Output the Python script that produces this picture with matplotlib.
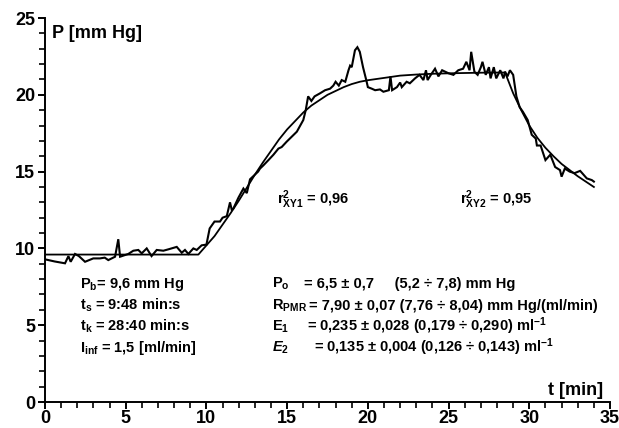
import matplotlib
matplotlib.use("Agg")
import matplotlib.pyplot as plt
from matplotlib.ticker import MultipleLocator

plt.rcParams['font.family'] = ['Liberation Sans', 'DejaVu Sans']
plt.rcParams['font.weight'] = 'bold'
plt.rcParams['mathtext.fontset'] = 'custom'
plt.rcParams['mathtext.rm'] = 'Liberation Sans:bold'
plt.rcParams['mathtext.bf'] = 'Liberation Sans:bold'
plt.rcParams['mathtext.sf'] = 'Liberation Sans:bold'
plt.rcParams['mathtext.it'] = 'Liberation Sans:bold:italic'
plt.rcParams['mathtext.default'] = 'rm'

# measured pressure (noisy record)
meas_t = [0.0, 0.6, 1.24, 1.45, 1.59, 1.86, 2.1, 2.48, 2.99, 3.4, 3.7, 3.92, 4.34, 4.54, 4.65,
          5.16, 5.47, 5.78, 5.99, 6.3, 6.6, 6.92, 7.33, 7.64, 8.16, 8.47, 8.67, 8.88, 9.19, 9.4,
          9.7, 10.0, 10.2, 10.5, 10.84, 11.0, 11.26, 11.46, 11.57, 11.67, 11.98, 12.29, 12.5,
          12.7, 13.0, 13.2, 13.32, 13.52, 13.84, 14.15, 14.46, 14.66, 14.97, 15.28, 15.6, 16.0,
          16.15, 16.3, 16.5, 16.7, 17.04, 17.35, 17.66, 17.86, 18.0, 18.2, 18.38, 18.6, 18.8,
          18.9, 19.0, 19.2, 19.35, 19.5, 19.7, 19.9, 20.0, 20.24, 20.45, 20.75, 20.96, 21.3,
          21.4, 21.5, 21.8, 22.0, 22.1, 22.4, 22.6, 22.92, 23.2, 23.44, 23.6, 23.7, 23.9, 24.16,
          24.37, 24.6, 24.8, 25.0, 25.3, 25.6, 25.9, 26.1, 26.3, 26.4, 26.6, 26.8, 27.0, 27.1,
          27.3, 27.5, 27.6, 27.8, 27.95, 28.2, 28.4, 28.5, 28.65, 28.8, 29.0, 29.2, 29.4, 29.6,
          29.9, 30.15, 30.4, 30.47, 30.7, 31.0, 31.3, 31.6, 31.9, 32.0, 32.2, 32.5, 32.8, 33.15,
          33.56, 33.87, 34.0]
meas_p = [9.29, 9.15, 9.03, 9.5, 9.13, 9.64, 9.5, 9.13, 9.35, 9.35, 9.4, 9.24, 9.46, 10.6, 9.46,
          9.64, 9.85, 9.9, 9.68, 10.0, 9.5, 9.9, 9.85, 9.94, 10.1, 9.72, 9.9, 9.64, 10.0, 9.9,
          10.2, 10.25, 11.3, 11.75, 11.75, 12.0, 12.1, 13.0, 12.5, 12.6, 13.3, 13.9, 13.6,
          14.5, 14.8, 15.0, 15.2, 15.4, 15.75, 16.1, 16.5, 16.6, 16.95, 17.27, 17.6, 18.36,
          19.0, 19.9, 19.6, 19.9, 20.1, 20.3, 20.4, 20.6, 20.85, 20.6, 20.96, 20.85, 21.6,
          21.9, 21.8, 22.9, 23.1, 22.8, 21.8, 20.96, 20.5, 20.4, 20.3, 20.35, 20.2, 20.3,
          21.2, 20.3, 20.5, 20.8, 20.5, 20.85, 20.75, 21.07, 21.3, 20.96, 21.6, 20.96, 21.3, 21.7,
          21.2, 21.6, 21.5, 21.4, 21.3, 21.6, 21.7, 22.15, 21.6, 22.8, 21.5, 21.3, 21.8, 22.15,
          21.3, 21.8, 21.07, 21.8, 21.07, 21.6, 21.07, 21.5, 21.2, 21.6, 21.3, 19.9, 19.2, 18.9,
          18.36, 17.4, 17.15, 16.7, 16.7, 15.75, 16.1, 15.3, 15.1, 14.67, 15.2, 15.0, 14.9, 15.05,
          14.56, 14.45, 14.35]

# fitted curve: baseline + infusion phase
fit1_t = [0.0, 9.5, 10.0, 10.5, 11.0, 11.5, 12.0, 12.5, 13.0, 13.5, 14.0, 14.5, 15.0, 15.5,
          16.0, 16.5, 17.0, 17.5, 18.0, 18.5, 19.0, 19.5, 20.0, 21.0, 22.0, 23.0, 24.0, 25.0,
          26.0, 27.0, 28.0, 28.5]
fit1_p = [9.6, 9.6, 10.2, 10.8, 11.55, 12.3, 13.1, 13.95, 14.8, 15.6, 16.35, 17.1, 17.75, 18.3,
          18.85, 19.3, 19.65, 20.0, 20.25, 20.5, 20.7, 20.85, 20.95, 21.1, 21.25, 21.32, 21.37,
          21.4, 21.42, 21.44, 21.45, 21.45]
# fitted curve: recovery phase
fit2_t = [28.5, 29.0, 29.5, 30.0, 30.5, 31.0, 31.5, 32.0, 32.5, 33.0, 33.5, 34.0]
fit2_p = [21.45, 20.1, 19.0, 18.0, 17.2, 16.55, 16.0, 15.5, 15.1, 14.7, 14.35, 14.0]

fig = plt.figure(figsize=(6.19, 4.28), dpi=100)
ax = fig.add_axes([0.0727, 0.0607, 0.9128, 0.8972])

ax.plot(meas_t, meas_p, color='black', lw=1.5, solid_joinstyle='miter')
ax.plot(fit1_t, fit1_p, color='black', lw=1.3)
ax.plot(fit2_t, fit2_p, color='black', lw=1.3)

ax.set_xlim(0, 35)
ax.set_ylim(0, 25)
for s in ['top', 'right']:
    ax.spines[s].set_visible(False)
for s in ['left', 'bottom']:
    ax.spines[s].set_linewidth(1.4)
ax.xaxis.set_major_locator(MultipleLocator(5))
ax.xaxis.set_minor_locator(MultipleLocator(1))
ax.yaxis.set_major_locator(MultipleLocator(5))
ax.yaxis.set_minor_locator(MultipleLocator(1))
ax.tick_params(which='major', direction='out', length=5, width=1.4, labelsize=13)
ax.tick_params(axis='x', which='major', pad=1)
ax.tick_params(axis='y', which='major', pad=2)
ax.tick_params(which='minor', direction='out', length=4, width=1.2)
for lab in ax.get_xticklabels() + ax.get_yticklabels():
    lab.set_fontweight('bold')

ax.text(0.43, 23.7, 'P [mm Hg]', fontsize=13, fontweight='bold', ha='left', va='baseline')
ax.text(34.57, 0.45, 't [min]', fontsize=13, fontweight='bold', ha='right', va='baseline')

fs = 10.5
ax.text(14.37, 12.9, r'r$^{2}_{XY1}$ = 0,96', fontsize=fs, ha='left', va='baseline')
ax.text(25.71, 12.9, r'r$^{2}_{XY2}$ = 0,95', fontsize=fs, ha='left', va='baseline')

ys = [7.42, 6.02, 4.64, 3.27]
left_lines = [r'P$_{b}$= 9,6 mm Hg', r't$_{s}$ = 9:48 min:s',
              r't$_{k}$ = 28:40 min:s', r'I$_{inf}$ = 1,5 [ml/min]']
for y, s in zip(ys, left_lines):
    ax.text(2.17, y, s, fontsize=fs, ha='left', va='baseline')

labels = [r'P$_{o}$', r'R$_{PMR}$', r'E$_{1}$', r'$\mathit{E}_{2}$']
vals = [u'= 6,5 \u00b1 0,7     (5,2 \u00f7 7,8) mm Hg',
        u'= 7,90 \u00b1 0,07 (7,76 \u00f7 8,04) mm Hg/(ml/min)',
        u'= 0,235 \u00b1 0,028 (0,179 \u00f7 0,290) ml$^{-1}$',
        u'= 0,135 \u00b1 0,004 (0,126 \u00f7 0,143) ml$^{-1}$']
vx = [16.05, 16.35, 16.23, 16.67]
for y, lb, v, x in zip(ys, labels, vals, vx):
    ax.text(14.06, y, lb, fontsize=fs, ha='left', va='baseline')
    ax.text(x, y, v, fontsize=fs, ha='left', va='baseline')

fig.savefig('out.png', dpi=100)
